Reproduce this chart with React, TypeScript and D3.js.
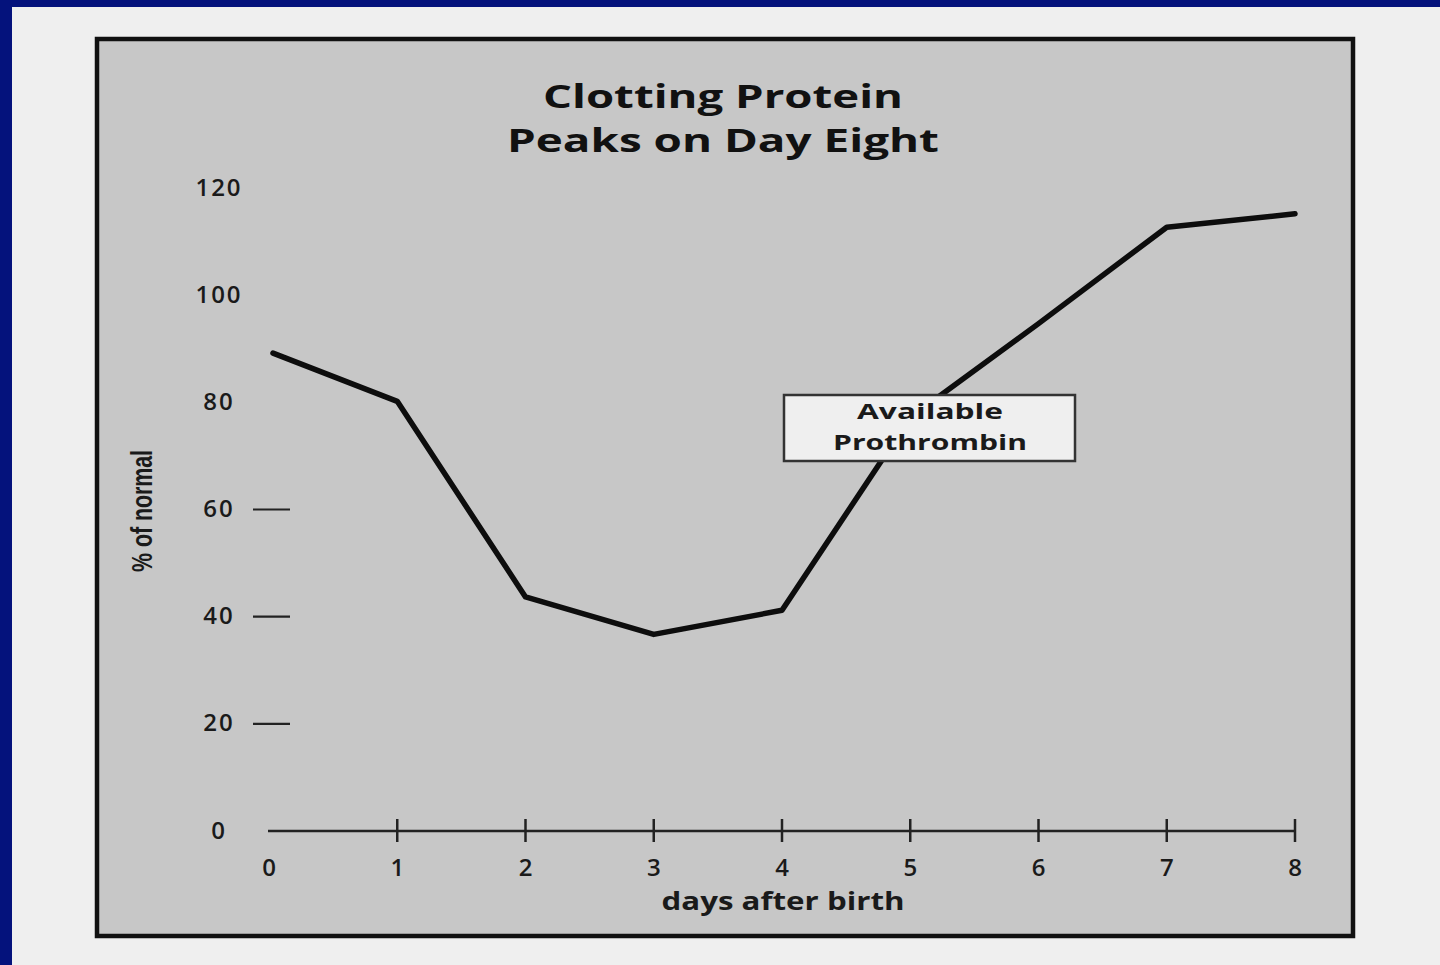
import { useEffect, useRef } from "react"
import * as d3 from "d3"

// days after birth and available prothrombin (% of normal)
const days = [0, 1, 2, 3, 4, 5, 6, 7, 8]
const prothrombin = [89, 80, 43.5, 36.5, 41, 77, 94.5, 112.5, 115]
const yTickValues = [0, 20, 40, 60, 80, 100, 120]
const yDashTicks = [20, 40, 60]
const titleLines = ["Clotting Protein", "Peaks on Day Eight"]
const boxLines = ["Available", "Prothrombin"]

const W = 1440
const H = 965
const FONT = "'Open Sans', 'DejaVu Sans', sans-serif"

export default function App() {
  const svgRef = useRef<SVGSVGElement>(null)

  useEffect(() => {
    document.body.style.margin = "0"
    if (!svgRef.current) return

    const svg = d3.select(svgRef.current)
    svg.selectAll("*").remove()
    svg.attr("width", W).attr("height", H)

    const x = d3.scaleLinear().domain([0, 8]).range([269, 1295])
    const y = d3.scaleLinear().domain([0, 120]).range([830, 187])

    // blue slide background + scanned page
    svg.append("rect").attr("width", W).attr("height", H).attr("fill", "#04127c")
    svg.append("rect")
      .attr("x", 12).attr("y", 7)
      .attr("width", W - 12).attr("height", H - 7)
      .attr("fill", "#efefef")

    // chart panel
    svg.append("rect")
      .attr("x", 97).attr("y", 39)
      .attr("width", 1256).attr("height", 897)
      .attr("fill", "#c7c7c7")
      .attr("stroke", "#111")
      .attr("stroke-width", 4.5)

    // title
    const titleWidths = [360, 432]
    titleLines.forEach((t, i) => {
      svg.append("text")
        .attr("x", 723)
        .attr("y", 108 + i * 44)
        .attr("text-anchor", "middle")
        .attr("font-family", FONT)
        .attr("font-weight", 700)
        .attr("font-size", 32)
        .attr("fill", "#111")
        .attr("textLength", titleWidths[i])
        .attr("lengthAdjust", "spacingAndGlyphs")
        .text(t)
    })

    // y tick labels
    svg.append("g")
      .selectAll("text")
      .data(yTickValues)
      .join("text")
      .attr("x", 219)
      .attr("y", d => y(d))
      .attr("dy", "0.36em")
      .attr("text-anchor", "middle")
      .attr("font-family", FONT)
      .attr("font-weight", 600)
      .attr("font-size", 24)
      .attr("letter-spacing", 2)
      .attr("fill", "#1a1a1a")
      .text(d => d)

    // little dashes beside 20/40/60
    svg.append("g")
      .selectAll("line")
      .data(yDashTicks)
      .join("line")
      .attr("x1", 253).attr("x2", 290)
      .attr("y1", d => y(d) + 1).attr("y2", d => y(d) + 1)
      .attr("stroke", "#222")
      .attr("stroke-width", 2.2)

    // y title
    svg.append("text")
      .attr("transform", "translate(152,511) rotate(-90)")
      .attr("text-anchor", "middle")
      .attr("font-family", "'Liberation Sans', Arial, sans-serif")
      .attr("font-weight", 700)
      .attr("font-size", 30)
      .attr("fill", "#1a1a1a")
      .attr("textLength", 122)
      .attr("lengthAdjust", "spacingAndGlyphs")
      .text("% of normal")

    // x axis
    svg.append("line")
      .attr("x1", x(0) - 1).attr("x2", x(8))
      .attr("y1", 831).attr("y2", 831)
      .attr("stroke", "#222")
      .attr("stroke-width", 2.5)

    svg.append("g")
      .selectAll("line")
      .data(days.slice(1))
      .join("line")
      .attr("x1", d => x(d)).attr("x2", d => x(d))
      .attr("y1", 819).attr("y2", 842)
      .attr("stroke", "#222")
      .attr("stroke-width", 2.5)

    svg.append("g")
      .selectAll("text")
      .data(days)
      .join("text")
      .attr("x", d => x(d))
      .attr("y", 867)
      .attr("dy", "0.36em")
      .attr("text-anchor", "middle")
      .attr("font-family", FONT)
      .attr("font-weight", 600)
      .attr("font-size", 24)
      .attr("fill", "#1a1a1a")
      .text(d => d)

    svg.append("text")
      .attr("x", 783)
      .attr("y", 910)
      .attr("text-anchor", "middle")
      .attr("font-family", FONT)
      .attr("font-weight", 700)
      .attr("font-size", 25)
      .attr("fill", "#1a1a1a")
      .attr("textLength", 243)
      .attr("lengthAdjust", "spacingAndGlyphs")
      .text("days after birth")

    // data line
    const line = d3.line<number>()
      .x((_, i) => x(days[i]) + (i === 0 ? 4 : 0))
      .y(d => y(d))

    svg.append("path")
      .attr("d", line(prothrombin) as string)
      .attr("fill", "none")
      .attr("stroke", "#0d0d0d")
      .attr("stroke-width", 5.5)
      .attr("stroke-linejoin", "round")
      .attr("stroke-linecap", "round")

    // label box
    svg.append("rect")
      .attr("x", 784).attr("y", 395)
      .attr("width", 291).attr("height", 66)
      .attr("fill", "#efefef")
      .attr("stroke", "#333")
      .attr("stroke-width", 2.5)

    const boxWidths = [146, 194]
    boxLines.forEach((t, i) => {
      svg.append("text")
        .attr("x", 930)
        .attr("y", 419 + i * 31)
        .attr("text-anchor", "middle")
        .attr("font-family", FONT)
        .attr("font-weight", 700)
        .attr("font-size", 22)
        .attr("fill", "#1a1a1a")
        .attr("textLength", boxWidths[i])
        .attr("lengthAdjust", "spacingAndGlyphs")
        .text(t)
    })
  }, [])

  return (
    <svg
      ref={svgRef}
      style={{ position: "absolute", left: 0, top: 0, display: "block" }}
    />
  )
}
